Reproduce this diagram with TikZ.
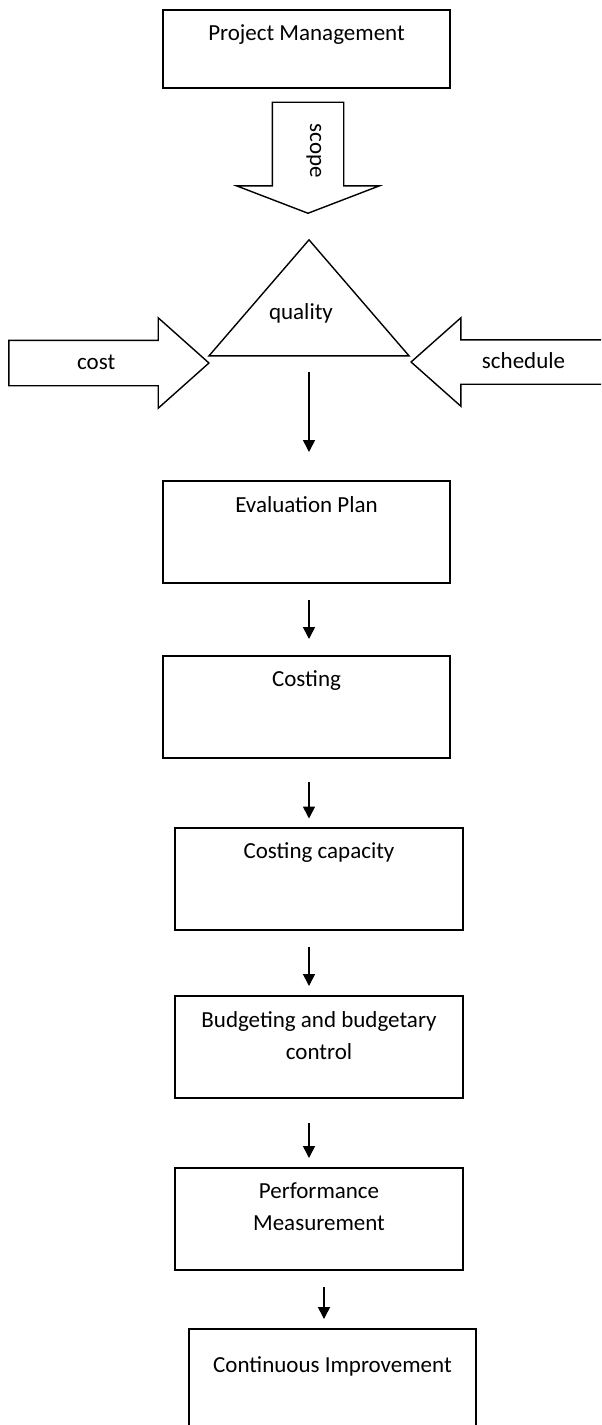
\documentclass[tikz,border=0pt]{standalone}
\usepackage{fontspec}
\setmainfont{Carlito}
\usetikzlibrary{arrows.meta, positioning, shapes.geometric, shapes.arrows}

\begin{document}
\begin{tikzpicture}[x=0.5pt, y=-0.5pt,
    font=\fontsize{11.5}{16}\selectfont,
    box/.style={draw, rectangle, line width=1pt, minimum width=143.5pt, minimum height=51pt},
    flow/.style={-{Triangle[length=6pt, width=6pt]}, line width=0.8pt},
    block/.style={draw, single arrow, line width=0.7pt, inner xsep=0pt, text height=8pt, text depth=2pt, single arrow head indent=0pt}]

    \useasboundingbox (0,0) rectangle (601,1425);
    \clip (0,0) rectangle (601,1425);

    % Nodes
    \node[box, minimum height=39pt] (pm) at (306.5,49) {};
        \node [below=4.5pt of pm.north] {Project Management};
    \node[block, rotate=-90, minimum height=55.5pt, text depth=10pt, inner ysep=8.5pt,
        single arrow head extend=17.75pt, single arrow tip angle=138, anchor=tip] (scope) at (308,214) {scope};

    \node[draw, isosceles triangle, shape border rotate=90, isosceles triangle stretches,
        minimum width=100pt, minimum height=58pt, inner sep=0pt, line width=0.7pt, anchor=apex] (quality) at (309,238) {};
        \node at (301,313) {quality};
    \node[block, minimum height=100pt, inner ysep=6pt,
        single arrow head extend=11.25pt, single arrow tip angle=83.4, anchor=tip] (cost) at (210,363) {cost};
    \node[block, shape border rotate=180, minimum height=100pt, inner ysep=5.75pt,
        single arrow head extend=11pt, single arrow tip angle=83.2, anchor=tip] (schedule) at (410,362) {schedule};

    \node[box] (eval) at (306.5,532) {};
        \node [below=4.5pt of eval.north] {Evaluation Plan};
    \node[box] (costing) at (306.5,707) {};
        \node [below=4.5pt of costing.north] {Costing};
    \node[box, minimum width=144pt] (capacity) at (319,878.5) {};
        \node [below=4.5pt of capacity.north] {Costing capacity};
    \node[box, minimum width=144pt] (budget) at (319,1047) {};
        \node [below=4.5pt of budget.north, align=center] {Budgeting and budgetary\\control};
    \node[box, minimum width=144pt] (perf) at (319,1219) {};
        \node [below=4.5pt of perf.north, align=center] {Performance\\Measurement};
    \node[box] (improve) at (332.5,1380) {};
        \node [below=11pt of improve.north] {Continuous Improvement};

    % Arrows
    \draw[flow] ([yshift=-7.5pt]quality.south) -- ([xshift=1.25pt, yshift=14pt]eval.north);
    \draw[flow] ([xshift=1.25pt, yshift=-8pt]eval.south) -- ([xshift=1.25pt, yshift=8pt]costing.north);
    \draw[flow] ([xshift=1.25pt, yshift=-11.5pt]costing.south) -- ([xshift=-5pt, yshift=4pt]capacity.north);
    \draw[flow] ([xshift=-5pt, yshift=-8pt]capacity.south) -- ([xshift=-5pt, yshift=4.5pt]budget.north);
    \draw[flow] ([xshift=-5pt, yshift=-12pt]budget.south) -- ([xshift=-5pt, yshift=4.5pt]perf.north);
    \draw[flow] ([xshift=2.5pt, yshift=-8pt]perf.south) -- ([xshift=-4.25pt, yshift=4.5pt]improve.north);

\end{tikzpicture}
\end{document}
